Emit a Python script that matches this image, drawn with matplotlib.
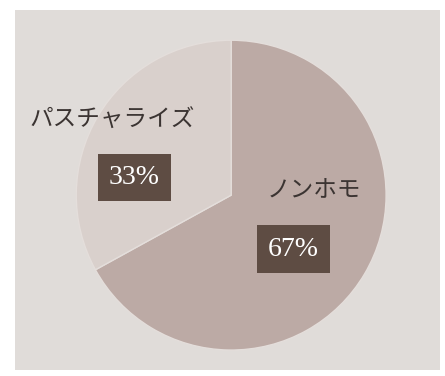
import matplotlib.pyplot as plt
from matplotlib.patches import Rectangle

labels = ['ノンホモ', 'パスチャライズ']
shares = [67, 33]
pct_text = ['67%', '33%']
colors = ['#bcaaa5', '#d9d0cc']

plt.rcParams['font.family'] = ['Noto Sans CJK JP', 'DejaVu Sans']

fig = plt.figure(figsize=(4.45, 3.76), dpi=100)
fig.patch.set_facecolor('white')
# scanned page background
fig.patches.append(Rectangle((15 / 445, 6 / 376), 425 / 445, 360 / 376,
                             transform=fig.transFigure, facecolor='#e0dcd9',
                             edgecolor='none', zorder=-10))

ax = fig.add_axes([0.171, 0.069, 0.697, 0.824])
ax.pie(shares, colors=colors, startangle=90, counterclock=False,
       wedgeprops=dict(edgecolor='#e4dedb', linewidth=1))
ax.set_xlim(-1, 1)
ax.set_ylim(-1, 1)
ax.set_aspect('equal')
ax.axis('off')

name_pos = [(0.535, 0.03), (-0.768, 0.484)]
pct_pos = [(0.40, -0.348), (-0.626, 0.116)]
for name, pct, npos, ppos in zip(labels, pct_text, name_pos, pct_pos):
    ax.text(npos[0], npos[1], name, ha='center', va='center', fontsize=17,
            color='#3b3432')
    ax.text(ppos[0], ppos[1], pct, ha='center', va='center', fontsize=20,
            color='white', family='Liberation Serif',
            bbox=dict(boxstyle='square,pad=0.4', facecolor='#5e4c43',
                      edgecolor='none'))

fig.savefig('out.png', dpi=100)
